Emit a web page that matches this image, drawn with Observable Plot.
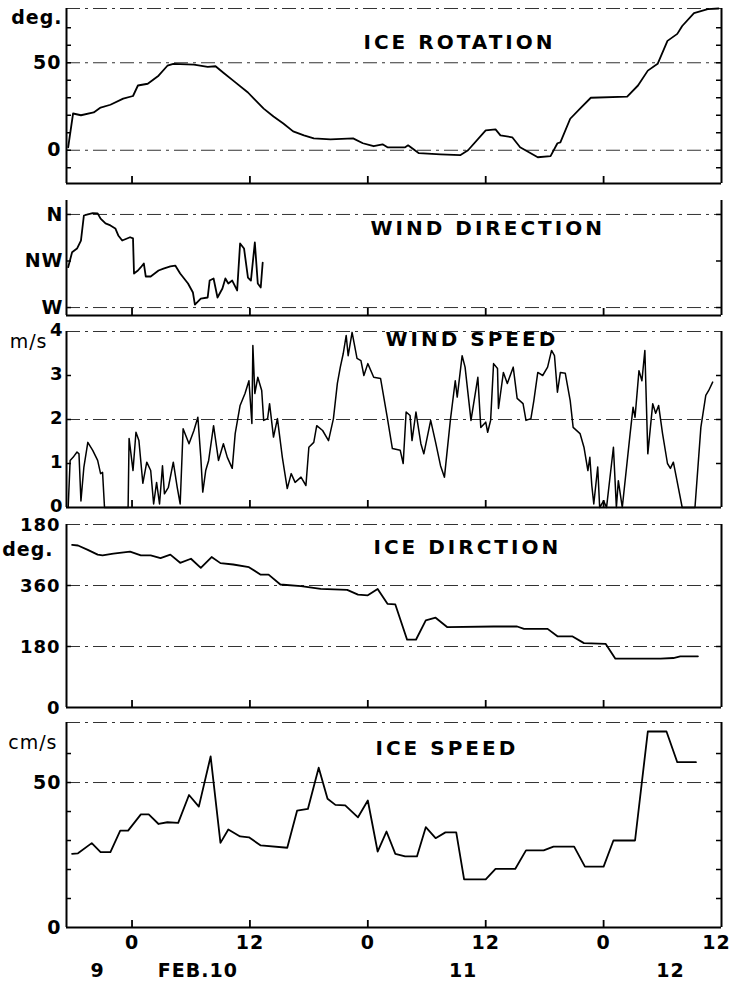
<!DOCTYPE html>
<html>
<head>
<meta charset="utf-8">
<script src="https://cdn.jsdelivr.net/npm/d3@7"></script>
<script src="https://cdn.jsdelivr.net/npm/@observablehq/plot@0.6"></script>
<style>
  html, body { margin: 0; padding: 0; background: #fff; }
  #chart { width: 731px; }
  #chart svg { display: block; }
  text[aria-label="title"] { letter-spacing: 3px; }
  text[aria-label="ylab"] { letter-spacing: 1px; }
  text[aria-label="xlab"] { letter-spacing: 1px; }
</style>
</head>
<body>
<div id="chart"></div>
<script>
// ---- shared time axis (hours from Feb 10, 00:00) ----
const xDomain = [-6.67, 60];
const hourTicks = [0, 12, 24, 36, 48];
const hourLabelValues = [0, 12, 24, 36, 48];
const hourLabelText = ["0", "12", "0", "12", "0"];
const lastHourLabel = [60];
const lastHourText = ["12"];
const dayLabelHours = [-3.5, 6.7, 33.7, 54.8];
const dayLabelText = ["9", "FEB.10", "11", "12"];

// ---- ICE ROTATION (deg) ----
const rotHours = [-6.5, -6.0, -5.2, -3.9, -3.2, -2.2, -0.9, 0.1, 0.6, 1.6, 2.7, 3.6, 4.2, 6.3, 7.7, 8.5, 9.3, 10.3, 11.8, 12.4, 13.4, 14.4, 15.4, 16.4, 17.5, 18.5, 20.2, 22.5, 23.5, 24.3, 24.6, 25.5, 26.0, 27.8, 28.1, 29.2, 31.4, 33.4, 34.2, 36.0, 37.0, 37.5, 38.7, 39.5, 41.3, 42.6, 43.3, 43.6, 44.6, 45.7, 46.7, 50.4, 51.5, 52.5, 53.5, 54.5, 55.5, 56.0, 57.2, 58.6, 59.7];
const rotDeg = [1.7, 21, 20, 21.6, 24.4, 26, 29.5, 31, 37, 38, 42.6, 48.3, 49.4, 48.9, 47.7, 48, 44.3, 39.8, 33, 29.5, 23.8, 19.3, 15.3, 10.8, 8.5, 6.8, 6.2, 6.8, 4, 2.8, 2.3, 3.4, 1.7, 1.7, 2.8, -1.7, -2.3, -2.8, 0, 11.4, 11.9, 8.5, 7.4, 1.7, -4, -3.4, 4, 4.5, 18, 24.4, 30, 30.7, 37, 45.5, 49.4, 62.5, 66.5, 71, 78.4, 80.7, 81];
const rotDomain = [-19, 81];
const rotLabels = [50, 0];
const rotGrid = [50, 0];
const rotMinorTicks = [-10, 0, 10, 20, 30, 40, 50, 60, 70];

// ---- WIND DIRECTION (deg, W=270, NW=315, N=360) ----
const wdHours = [-6.5, -6.1, -5.6, -5.2, -4.9, -4.5, -4.0, -3.5, -3.2, -2.7, -2.2, -1.7, -1.4, -1.0, -0.2, 0.1, 0.2, 0.6, 0.9, 1.2, 1.4, 1.9, 2.7, 3.2, 3.9, 4.4, 4.9, 5.7, 6.2, 6.4, 7.0, 7.7, 7.9, 8.3, 8.7, 9.2, 9.5, 9.8, 10.2, 10.7, 11.0, 11.4, 11.8, 12.1, 12.5, 12.8, 13.1, 13.3];
const wdDeg = [309, 323.5, 327, 334.8, 359, 360, 361.3, 361, 356, 351.3, 349.4, 346.5, 339.7, 334.8, 338, 336.8, 302.9, 305.8, 309, 312.6, 300, 300, 305.8, 307.7, 309.7, 310.6, 302.9, 293.2, 284.5, 272.9, 278.7, 279.7, 296.1, 298.1, 279.7, 288.4, 298.1, 293.2, 296.1, 286.5, 331.9, 327.1, 299, 296.1, 332.9, 293.2, 289.4, 313.5];
const wdDomain = [262.3, 373.5];
const wdTickValues = [360, 315, 270];
const wdTickText = ["N", "NW", "W"];
const wdGrid = [360, 270];

// ---- WIND SPEED (m/s) ----
const wsHours = [-6.5, -6.3, -6.0, -5.6, -5.4, -5.2, -4.9, -4.5, -4.0, -3.5, -3.2, -3.0, -2.8, -0.4, -0.3, 0.1, 0.4, 0.7, 1.1, 1.5, 1.9, 2.2, 2.5, 2.8, 3.1, 3.3, 3.7, 4.2, 4.6, 4.9, 5.2, 5.8, 6.3, 6.7, 7.0, 7.2, 7.5, 7.8, 8.3, 8.8, 9.3, 9.7, 10.2, 10.5, 11.0, 11.5, 11.9, 12.2, 12.3, 12.5, 12.8, 13.2, 13.4, 13.8, 14.0, 14.4, 14.8, 15.3, 15.8, 16.2, 16.6, 17.2, 17.7, 18.0, 18.5, 18.8, 19.4, 20.0, 20.5, 20.9, 21.2, 21.5, 21.8, 22.0, 22.4, 22.9, 23.3, 23.6, 24.0, 24.6, 25.3, 26.0, 26.5, 27.3, 27.6, 27.9, 28.3, 28.5, 28.9, 29.4, 29.7, 30.4, 30.9, 31.4, 31.8, 32.4, 32.9, 33.1, 33.6, 33.9, 34.5, 35.2, 35.5, 36.0, 36.2, 36.5, 36.8, 37.2, 37.3, 37.8, 38.2, 38.8, 39.2, 39.8, 40.1, 40.6, 40.9, 41.3, 41.8, 42.3, 42.7, 43.0, 43.3, 43.6, 44.1, 44.6, 44.9, 45.6, 46.0, 46.4, 46.6, 46.8, 47.0, 47.4, 47.6, 48.0, 48.3, 49.0, 49.3, 49.5, 49.9, 50.7, 51.0, 51.2, 51.6, 51.9, 52.2, 52.5, 53.0, 53.3, 53.6, 54.0, 54.5, 54.8, 55.1, 55.4, 56.0, 57.3, 57.9, 58.4, 58.7, 59.1];
const wsSpeed = [0, 1.07, 1.14, 1.26, 1.22, 0.15, 0.92, 1.48, 1.3, 1.07, 0.77, 0.8, 0, 0, 1.57, 0.84, 1.71, 1.52, 0.55, 1.03, 0.84, 0.08, 0.57, 0.08, 0.95, 0.31, 0.46, 1.03, 0.46, 0.08, 1.79, 1.45, 1.75, 2.05, 1.14, 0.35, 0.84, 1.07, 1.86, 1.07, 1.45, 1.14, 0.89, 1.68, 2.32, 2.59, 2.88, 1.91, 3.68, 2.59, 2.96, 2.66, 1.98, 2.02, 2.36, 1.6, 2.02, 1.14, 0.43, 0.77, 0.57, 0.69, 0.5, 1.37, 1.48, 1.86, 1.75, 1.52, 2.02, 2.82, 3.19, 3.5, 3.91, 3.45, 3.98, 3.39, 3.34, 3.0, 3.27, 2.96, 2.93, 2.02, 1.34, 1.3, 1.0, 2.17, 2.09, 1.52, 2.17, 1.45, 1.22, 1.98, 1.48, 0.95, 0.69, 1.98, 2.88, 2.51, 3.45, 3.19, 1.98, 2.96, 1.82, 1.94, 1.71, 1.98, 3.27, 3.16, 2.25, 3.07, 2.82, 3.19, 2.48, 2.36, 1.98, 2.02, 2.43, 3.07, 3.0, 3.19, 3.57, 3.45, 2.62, 3.07, 3.05, 2.43, 1.82, 1.68, 1.37, 0.84, 1.14, 0.5, 0.08, 0.92, 0, 0.15, 0, 1.37, 0, 0.61, 0, 1.68, 2.28, 2.05, 3.11, 2.88, 3.57, 1.22, 2.36, 2.14, 2.32, 1.68, 1.0, 0.89, 1.03, 0.69, 0, 0, 1.82, 2.55, 2.66, 2.85];
const wsDomain = [0, 4];
const wsLabels = [4, 3, 2, 1, 0];
const wsGrid = [2];
const wsMinorTicks = [1, 2, 3];

// ---- ICE DIRECTION (deg, continuous: 540 = 180) ----
const idHours = [-6.1, -5.5, -4.5, -3.5, -3.0, -1.9, -0.2, 0.9, 1.9, 2.9, 3.9, 4.9, 6.0, 7.0, 8.1, 9.0, 10.3, 11.9, 13.1, 13.9, 15.1, 17.2, 19.2, 21.9, 23.0, 24.0, 25.0, 26.0, 26.8, 28.0, 28.9, 29.9, 30.9, 32.1, 36.8, 39.2, 39.9, 42.3, 43.3, 44.8, 46.0, 48.2, 49.2, 53.8, 55.1, 55.8, 57.6];
const idDeg = [480, 478, 465, 451, 449, 454, 460, 449, 449, 441, 451, 427, 439, 412, 444, 426, 422, 414, 392, 392, 363, 358, 350, 347, 333, 331, 350, 306, 304, 200, 200, 257, 265, 237, 239, 239, 232, 232, 210, 210, 190, 188, 144, 144, 146, 151, 151];
const idDomain = [0, 540];
const idTickValues = [540, 360, 180, 0];
const idTickText = ["180", "360", "180", "0"];
const idGrid = [360, 180];
const idMinorTicks = [360, 180];

// ---- ICE SPEED (cm/s) ----
const isHours = [-6.1, -5.5, -4.1, -3.2, -2.2, -1.2, -0.4, 0.9, 1.7, 2.7, 3.6, 4.7, 5.8, 6.8, 8.0, 9.0, 9.8, 11.0, 11.9, 13.1, 15.8, 16.8, 17.9, 19.0, 19.9, 20.7, 21.7, 23.0, 24.0, 25.0, 25.9, 26.8, 27.8, 29.0, 29.9, 30.9, 31.9, 33.0, 33.8, 36.0, 37.0, 39.0, 40.1, 41.9, 42.9, 45.0, 46.1, 48.0, 49.0, 51.2, 52.5, 54.4, 55.5, 57.4];
const isSpeed = [25.4, 25.6, 29.1, 26.0, 26.0, 33.4, 33.4, 39.0, 39.0, 35.7, 36.3, 36.1, 45.7, 41.7, 59.0, 29.2, 33.8, 31.4, 31.1, 28.3, 27.5, 40.3, 40.9, 55.1, 44.4, 42.3, 42.1, 38.0, 43.8, 26.2, 33.1, 25.4, 24.5, 24.5, 34.6, 30.8, 32.8, 32.8, 16.6, 16.6, 20.2, 20.2, 26.6, 26.6, 27.9, 27.9, 21.0, 21.0, 30.0, 30.0, 67.6, 67.6, 57.0, 57.0];
const isDomain = [0, 70.7];
const isLabels = [50, 0];
const isGrid = [50];
const isMinorTicks = [10, 20, 30, 40, 50, 60];

// ---------------------------------------------------------------
const W = 731, ML = 66, MR = 10;
const innerW = W - ML - MR;
const FONT = "DejaVu Sans, Verdana, sans-serif";
const dash = {stroke: "#333", strokeWidth: 1, strokeDasharray: "14,5,3,5"};
const LW = 1.8;

function zip(xs, ys) { return xs.map((h, i) => ({h, v: ys[i]})); }

function frameMarks(yDomain, innerH, {top = true} = {}) {
  return [
    top ? Plot.ruleY([yDomain[1]], dash) : null,
    Plot.ruleX(xDomain, {strokeWidth: 2}),
    Plot.ruleY([yDomain[0]], {strokeWidth: 2}),
    Plot.tickX(hourTicks, {x: d => d, insetTop: innerH - 7, strokeWidth: 1.8})
  ];
}
function sideTicks(values, len = 5) {
  return [
    Plot.tickY(values, {y: d => d, insetRight: innerW - len, strokeWidth: 1.5}),
    Plot.tickY(values, {y: d => d, insetLeft: innerW - len, strokeWidth: 1.5})
  ];
}
function yLabels(values, texts, dx = -5, dy = 0, fontSize = 19) {
  return Plot.text(values, {y: d => d, text: (d, i) => texts[i], frameAnchor: "left", textAnchor: "end",
    lineAnchor: "middle", dx, dy, fontSize, fontWeight: "bold", ariaLabel: () => "ylab"});
}
function title(str, dx, dy) {
  return Plot.text([str], {text: d => d, frameAnchor: "top-left", textAnchor: "start", lineAnchor: "middle",
    dx, dy, fontSize: 20, fontWeight: "bold", ariaLabel: () => "title"});
}
function unit(str, dx, dy, weight = "bold") {
  return Plot.text([str], {text: d => d, frameAnchor: "top-left", textAnchor: "end", lineAnchor: "middle",
    dx, dy, fontSize: 19, fontWeight: weight, ariaLabel: () => "ylab"});
}
function panel({marginTop, innerH, marginBottom, yDomain, marks}) {
  return Plot.plot({
    width: W, height: marginTop + innerH + marginBottom,
    marginLeft: ML, marginRight: MR, marginTop, marginBottom,
    x: {domain: xDomain, axis: null},
    y: {domain: yDomain, axis: null},
    style: {fontFamily: FONT, background: "white", color: "black", overflow: "visible"},
    marks
  });
}

const chart = document.getElementById("chart");

// Panel 1: ICE ROTATION
{
  const innerH = 175;
  chart.append(panel({marginTop: 8, innerH, marginBottom: 9, yDomain: rotDomain, marks: [
    Plot.ruleY(rotGrid, dash),
    ...frameMarks(rotDomain, innerH),
    ...sideTicks(rotMinorTicks),
    Plot.line(zip(rotHours, rotDeg), {x: "h", y: "v", strokeWidth: LW}),
    yLabels(rotLabels, rotLabels.map(String), -5),
    unit("deg.", -4, 9),
    title("ICE ROTATION", 297, 34)
  ]}));
}
// Panel 2: WIND DIRECTION
{
  const innerH = 115;
  chart.append(panel({marginTop: 8, innerH, marginBottom: 5, yDomain: wdDomain, marks: [
    Plot.ruleY(wdGrid, dash),
    ...frameMarks(wdDomain, innerH, {top: false}),
    ...sideTicks(wdTickValues),
    Plot.line(zip(wdHours, wdDeg), {x: "h", y: "v", strokeWidth: LW}),
    yLabels(wdTickValues, wdTickText, -3),
    title("WIND DIRECTION", 304, 28)
  ]}));
}
// Panel 3: WIND SPEED
{
  const innerH = 176;
  chart.append(panel({marginTop: 11, innerH, marginBottom: 7, yDomain: wsDomain, marks: [
    Plot.ruleY(wsGrid, dash),
    ...frameMarks(wsDomain, innerH),
    ...sideTicks(wsMinorTicks),
    Plot.line(zip(wsHours, wsSpeed), {x: "h", y: "v", strokeWidth: 1.5}),
    yLabels(wsLabels, wsLabels.map(String), -3, -1, 18),
    unit("m/s", -19, 10, "normal"),
    title("WIND SPEED", 319, 8)
  ]}));
}
// Panel 4: ICE DIRCTION
{
  const innerH = 183;
  chart.append(panel({marginTop: 10, innerH, marginBottom: 7, yDomain: idDomain, marks: [
    Plot.ruleY(idGrid, dash),
    ...frameMarks(idDomain, innerH),
    ...sideTicks(idMinorTicks),
    Plot.line(zip(idHours, idDeg), {x: "h", y: "v", strokeWidth: LW}),
    yLabels(idTickValues, idTickText, -6, 1, 18),
    unit("deg.", -13, 25),
    title("ICE DIRCTION", 307, 23)
  ]}));
}
// Panel 5: ICE SPEED + time axis
{
  const innerH = 205;
  chart.append(panel({marginTop: 8, innerH, marginBottom: 57, yDomain: isDomain, marks: [
    Plot.ruleY(isGrid, dash),
    ...frameMarks(isDomain, innerH),
    ...sideTicks(isMinorTicks),
    Plot.line(zip(isHours, isSpeed), {x: "h", y: "v", strokeWidth: LW}),
    yLabels(isLabels, isLabels.map(String), -5),
    unit("cm/s", -9, 20, "normal"),
    title("ICE SPEED", 309, 26),
    Plot.text(hourLabelValues, {x: d => d, text: (d, i) => hourLabelText[i], frameAnchor: "bottom", lineAnchor: "middle",
      dy: 15, fontSize: 19, fontWeight: "bold", ariaLabel: () => "xlab"}),
    Plot.text(lastHourLabel, {x: d => d, text: (d, i) => lastHourText[i], frameAnchor: "bottom", lineAnchor: "middle",
      dy: 15, dx: -5, fontSize: 19, fontWeight: "bold", ariaLabel: () => "xlab"}),
    Plot.text(dayLabelHours, {x: d => d, text: (d, i) => dayLabelText[i], frameAnchor: "bottom", lineAnchor: "middle",
      dy: 43, fontSize: 19, fontWeight: "bold", ariaLabel: () => "xlab"})
  ]}));
}
</script>
</body>
</html>
